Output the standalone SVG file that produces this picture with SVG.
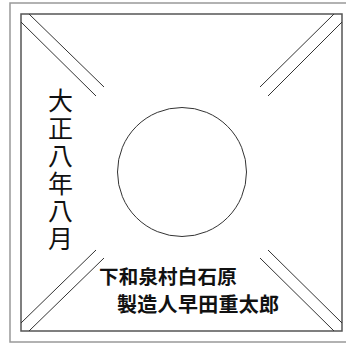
<svg xmlns="http://www.w3.org/2000/svg" width="346" height="345" viewBox="0 0 346 345">
<style>
.outer{fill:none;stroke:#999;stroke-width:1.5}
.inner{fill:none;stroke:#555;stroke-width:1.5}
.ln{stroke:#333;stroke-width:1;fill:none}
.t{font-family:"Noto Sans CJK JP","Noto Sans CJK SC",sans-serif;fill:#111}
</style>
<rect width="346" height="345" fill="#fff"/>
<g id="frame">
<rect class="outer" x="10" y="3" width="345" height="339"/>
<rect class="inner" x="21" y="14" width="321" height="317"/>
</g>
<g id="connectors">
<line class="ln" x1="21" y1="22" x2="96" y2="96"/>
<line class="ln" x1="29" y1="14" x2="104" y2="87"/>
<line class="ln" x1="334" y1="14" x2="260" y2="87"/>
<line class="ln" x1="342" y1="22" x2="268" y2="96"/>
<line class="ln" x1="21" y1="323" x2="96" y2="250"/>
<line class="ln" x1="29" y1="331" x2="104" y2="258"/>
<line class="ln" x1="260" y1="258" x2="334" y2="331"/>
<line class="ln" x1="268" y1="250" x2="342" y2="323"/>
</g>
<g id="seal">
<circle cx="182" cy="172" r="64.5" fill="none" stroke="#333" stroke-width="1"/>
</g>
<g id="date">
<text class="t" x="60.5" y="88" font-size="25" style="writing-mode:vertical-rl;letter-spacing:2.5px">大正八年八月</text>
</g>
<g id="maker">
<text class="t" x="99" y="284" font-size="19.5" font-weight="bold" letter-spacing="0.2">下和泉村白石原</text>
<text class="t" x="117" y="312" font-size="20" font-weight="bold" letter-spacing="0.3">製造人早田重太郎</text>
</g>
</svg>
